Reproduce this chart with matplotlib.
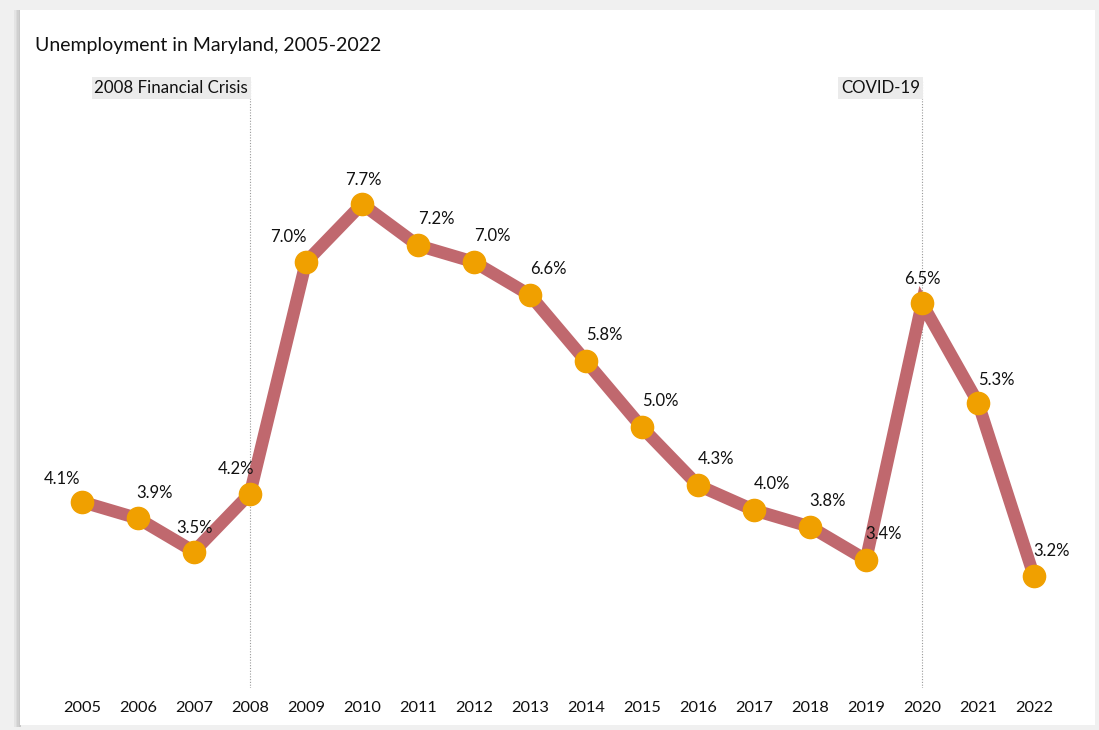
import matplotlib.pyplot as plt
from matplotlib.patches import Rectangle

# Maryland annual unemployment rate (%)
years = list(range(2005, 2023))
rates = [4.1, 3.9, 3.5, 4.2, 7.0, 7.7, 7.2, 7.0, 6.6, 5.8, 5.0, 4.3, 4.0, 3.8, 3.4, 6.5, 5.3, 3.2]
events = [(2008, "2008 Financial Crisis"), (2020, "COVID-19")]

W, H = 1099, 730
plt.rcParams['font.family'] = ['Lato', 'DejaVu Sans']

fig = plt.figure(figsize=(W / 100, H / 100), dpi=100)
fig.patch.set_facecolor('#F0F0F0')

def px(x0, y0, x1, y1):
    # pixel box (top-left origin) -> figure fraction rect
    return [x0 / W, 1 - y1 / H, (x1 - x0) / W, (y1 - y0) / H]

# white card with a soft shadow on the left
for i, c in enumerate(['#E4E4E4', '#DADADA', '#D0D0D0', '#C8C8C8']):
    fig.add_artist(Rectangle(((14 + i * 1.5) / W, 1 - 727 / H), 2 / W, 717 / H,
                             transform=fig.transFigure, color=c, lw=0, zorder=-10))
fig.add_artist(Rectangle((20 / W, 1 - 725 / H), 1075 / W, 715 / H,
                         transform=fig.transFigure, color='white', lw=0, zorder=-9))

ax = fig.add_axes(px(54, 80, 1062, 688))
ax.set_facecolor('none')
ax.set_xlim(2004.5, 2022.5)
ax.set_ylim(1.85, 9.2)

ax.plot(years, rates, color='#C0686E', lw=9, solid_joinstyle='miter', zorder=2)
ax.plot(years, rates, 'o', color='#F0A000', ms=16, mec='#F0A000', zorder=3)

# label offsets in pixels (dx, dy)
offsets = [(-20, 23), (17, 25), (1, 24), (-14, 25), (-18, 25), (1, 24)] + [(18, 26)] * 9 + [(0, 24), (18, 23), (18, 25)]
for x, v, (dx, dy) in zip(years, rates, offsets):
    ax.annotate(f"{v:.1f}%", (x, v), xytext=(dx, dy), textcoords='offset pixels',
                ha='center', va='center', fontsize=12, color='#111111', zorder=4)

for x, name in events:
    ax.axvline(x, color='#9A9A9A', lw=0.8, ls=(0, (1, 1.5)), zorder=1)
    ax.annotate(name, (x, 9.2), xytext=(-2, -8), textcoords='offset pixels',
                ha='right', va='center', fontsize=12.2, color='#111111',
                bbox=dict(boxstyle='square,pad=0.15', fc='#EBEBEB', ec='none'))

ax.set_xticks(years)
ax.set_xticklabels([str(y) for y in years], fontsize=11.8, color='#111111')
ax.tick_params(axis='x', length=0, pad=9)
ax.set_yticks([])
for s in ax.spines.values():
    s.set_visible(False)

fig.text(35 / W, 1 - 46 / H, "Unemployment in Maryland, 2005-2022", fontsize=14,
         color='#111111', ha='left', va='center')

fig.savefig('out.png', dpi=100, facecolor=fig.get_facecolor())
